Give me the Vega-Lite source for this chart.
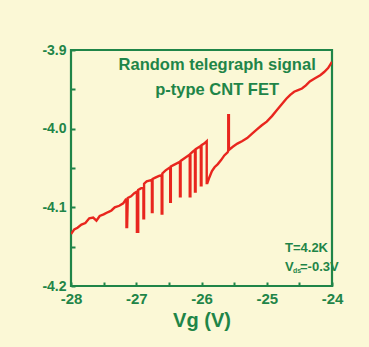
{
  "$schema": "https://vega.github.io/schema/vega-lite/v6.json",
  "width": 261,
  "height": 236,
  "autosize": "none",
  "padding": {"left": 71, "top": 50, "right": 37, "bottom": 61},
  "background": "#fbf8d6",
  "config": {
    "view": {"stroke": "#1f8548", "strokeWidth": 2.2},
    "font": "Liberation Sans",
    "axis": {
      "domain": false,
      "grid": false,
      "tickColor": "#1f8548",
      "tickWidth": 2,
      "labelColor": "#1f8548",
      "labelFont": "Liberation Sans",
      "labelFontWeight": "bold",
      "titleColor": "#1f8548",
      "titleFont": "Liberation Sans",
      "titleFontWeight": "bold",
      "zindex": 1
    }
  },
  "resolve": {"axis": {"x": "independent", "y": "independent"}},
  "datasets": {
    "trace": [
      {"i": 1, "vg": -28.00, "v": -4.134},
      {"i": 2, "vg": -27.95, "v": -4.128},
      {"i": 3, "vg": -27.90, "v": -4.126},
      {"i": 4, "vg": -27.84, "v": -4.122},
      {"i": 5, "vg": -27.78, "v": -4.120},
      {"i": 6, "vg": -27.72, "v": -4.114},
      {"i": 7, "vg": -27.66, "v": -4.113},
      {"i": 8, "vg": -27.61, "v": -4.117},
      {"i": 9, "vg": -27.56, "v": -4.111},
      {"i": 10, "vg": -27.50, "v": -4.109},
      {"i": 11, "vg": -27.43, "v": -4.106},
      {"i": 12, "vg": -27.38, "v": -4.104},
      {"i": 13, "vg": -27.33, "v": -4.100},
      {"i": 14, "vg": -27.26, "v": -4.098},
      {"i": 15, "vg": -27.20, "v": -4.095},
      {"i": 16, "vg": -27.16, "v": -4.090},
      {"i": 17, "vg": -27.15, "v": -4.090},
      {"i": 18, "vg": -27.15, "v": -4.125},
      {"i": 19, "vg": -27.14, "v": -4.125},
      {"i": 20, "vg": -27.13, "v": -4.088},
      {"i": 21, "vg": -27.08, "v": -4.086},
      {"i": 22, "vg": -27.03, "v": -4.082},
      {"i": 23, "vg": -26.99, "v": -4.080},
      {"i": 24, "vg": -26.99, "v": -4.131},
      {"i": 25, "vg": -26.97, "v": -4.131},
      {"i": 26, "vg": -26.97, "v": -4.078},
      {"i": 27, "vg": -26.93, "v": -4.076},
      {"i": 28, "vg": -26.89, "v": -4.075},
      {"i": 29, "vg": -26.89, "v": -4.114},
      {"i": 30, "vg": -26.88, "v": -4.114},
      {"i": 31, "vg": -26.88, "v": -4.070},
      {"i": 32, "vg": -26.84, "v": -4.067},
      {"i": 33, "vg": -26.80, "v": -4.066},
      {"i": 34, "vg": -26.76, "v": -4.065},
      {"i": 35, "vg": -26.76, "v": -4.106},
      {"i": 36, "vg": -26.75, "v": -4.106},
      {"i": 37, "vg": -26.75, "v": -4.064},
      {"i": 38, "vg": -26.70, "v": -4.062},
      {"i": 39, "vg": -26.65, "v": -4.060},
      {"i": 40, "vg": -26.61, "v": -4.059},
      {"i": 41, "vg": -26.61, "v": -4.108},
      {"i": 42, "vg": -26.60, "v": -4.108},
      {"i": 43, "vg": -26.60, "v": -4.057},
      {"i": 44, "vg": -26.55, "v": -4.053},
      {"i": 45, "vg": -26.48, "v": -4.049},
      {"i": 46, "vg": -26.48, "v": -4.093},
      {"i": 47, "vg": -26.47, "v": -4.093},
      {"i": 48, "vg": -26.47, "v": -4.048},
      {"i": 49, "vg": -26.40, "v": -4.045},
      {"i": 50, "vg": -26.33, "v": -4.042},
      {"i": 51, "vg": -26.33, "v": -4.086},
      {"i": 52, "vg": -26.32, "v": -4.086},
      {"i": 53, "vg": -26.32, "v": -4.041},
      {"i": 54, "vg": -26.25, "v": -4.037},
      {"i": 55, "vg": -26.18, "v": -4.033},
      {"i": 56, "vg": -26.18, "v": -4.086},
      {"i": 57, "vg": -26.17, "v": -4.086},
      {"i": 58, "vg": -26.17, "v": -4.032},
      {"i": 59, "vg": -26.13, "v": -4.029},
      {"i": 60, "vg": -26.10, "v": -4.027},
      {"i": 61, "vg": -26.10, "v": -4.080},
      {"i": 62, "vg": -26.09, "v": -4.080},
      {"i": 63, "vg": -26.09, "v": -4.026},
      {"i": 64, "vg": -26.05, "v": -4.024},
      {"i": 65, "vg": -26.01, "v": -4.022},
      {"i": 66, "vg": -26.01, "v": -4.072},
      {"i": 67, "vg": -26.00, "v": -4.072},
      {"i": 68, "vg": -26.00, "v": -4.021},
      {"i": 69, "vg": -25.96, "v": -4.019},
      {"i": 70, "vg": -25.92, "v": -4.016},
      {"i": 71, "vg": -25.92, "v": -4.069},
      {"i": 72, "vg": -25.91, "v": -4.069},
      {"i": 73, "vg": -25.88, "v": -4.062},
      {"i": 74, "vg": -25.84, "v": -4.054},
      {"i": 75, "vg": -25.80, "v": -4.049},
      {"i": 76, "vg": -25.75, "v": -4.045},
      {"i": 77, "vg": -25.70, "v": -4.040},
      {"i": 78, "vg": -25.65, "v": -4.034},
      {"i": 79, "vg": -25.60, "v": -4.030},
      {"i": 80, "vg": -25.59, "v": -4.028},
      {"i": 81, "vg": -25.59, "v": -3.983},
      {"i": 82, "vg": -25.58, "v": -3.983},
      {"i": 83, "vg": -25.58, "v": -4.027},
      {"i": 84, "vg": -25.52, "v": -4.023},
      {"i": 85, "vg": -25.45, "v": -4.019},
      {"i": 86, "vg": -25.38, "v": -4.016},
      {"i": 87, "vg": -25.30, "v": -4.012},
      {"i": 88, "vg": -25.22, "v": -4.006},
      {"i": 89, "vg": -25.15, "v": -4.001},
      {"i": 90, "vg": -25.08, "v": -3.996},
      {"i": 91, "vg": -25.00, "v": -3.991},
      {"i": 92, "vg": -24.92, "v": -3.984},
      {"i": 93, "vg": -24.85, "v": -3.977},
      {"i": 94, "vg": -24.78, "v": -3.970},
      {"i": 95, "vg": -24.70, "v": -3.962},
      {"i": 96, "vg": -24.64, "v": -3.957},
      {"i": 97, "vg": -24.58, "v": -3.953},
      {"i": 98, "vg": -24.52, "v": -3.951},
      {"i": 99, "vg": -24.46, "v": -3.949},
      {"i": 100, "vg": -24.40, "v": -3.945},
      {"i": 101, "vg": -24.34, "v": -3.940},
      {"i": 102, "vg": -24.26, "v": -3.936},
      {"i": 103, "vg": -24.18, "v": -3.932},
      {"i": 104, "vg": -24.12, "v": -3.928},
      {"i": 105, "vg": -24.06, "v": -3.923},
      {"i": 106, "vg": -24.00, "v": -3.915}
    ],
    "titles": [
      {"vg": -25.76, "v": -3.919, "t": "Random telegraph signal"},
      {"vg": -25.76, "v": -3.951, "t": "p-type CNT FET"}
    ],
    "cond": [
      {"vg": -24.72, "v": -4.152, "t": "T=4.2K"}
    ],
    "vds": [
      {"vg": -24.72, "v": -4.176, "t": "V", "s": "ds", "r": "=-0.3V"}
    ]
  },
  "layer": [
    {
      "data": {"name": "trace"},
      "mark": {"type": "line", "color": "#e8261e", "strokeWidth": 2.4, "clip": true},
      "encoding": {
        "x": {
          "field": "vg", "type": "quantitative",
          "scale": {"domain": [-28, -24], "nice": false, "zero": false},
          "axis": {
            "orient": "bottom",
            "values": [-28, -27, -26, -25, -24],
            "labelExpr": "replace(format(datum.value, 'd'), '\u2212', '-')",
            "ticks": false,
            "tickSize": 0,
            "labelFontSize": 15,
            "labelPadding": 5,
            "labelFlush": false,
            "title": "Vg (V)",
            "titleFontSize": 20,
            "titlePadding": 4
          }
        },
        "y": {
          "field": "v", "type": "quantitative",
          "scale": {"domain": [-4.2, -3.9], "nice": false, "zero": false},
          "axis": {
            "orient": "left",
            "values": [-4.2, -4.1, -4.0, -3.9],
            "labelExpr": "replace(format(datum.value, '.1f'), '\u2212', '-')",
            "ticks": false,
            "tickSize": 0,
            "labelFontSize": 14,
            "labelPadding": 5,
            "labelFlush": false,
            "title": null
          }
        },
        "order": {"field": "i", "type": "quantitative"}
      }
    },
    {
      "data": {"name": "titles"},
      "mark": {"type": "text", "color": "#1f8548", "fontWeight": "bold", "fontSize": 16.5, "align": "center", "baseline": "middle"},
      "encoding": {
        "x": {
          "field": "vg", "type": "quantitative",
          "axis": {
            "orient": "top",
            "offset": -236,
            "values": [-28, -27.5, -27, -26.5, -26, -25.5, -25, -24.5, -24],
            "labels": false,
            "ticks": true,
            "tickSize": 4,
            "title": null
          }
        },
        "y": {
          "field": "v", "type": "quantitative",
          "axis": {
            "orient": "right",
            "offset": -261,
            "values": [-4.2, -4.15, -4.1, -4.05, -4.0, -3.95, -3.9],
            "labels": false,
            "ticks": true,
            "tickSize": 4,
            "title": null
          }
        },
        "text": {"field": "t"}
      }
    },
    {
      "data": {"name": "cond"},
      "mark": {"type": "text", "color": "#1f8548", "fontWeight": "bold", "fontSize": 13, "align": "left", "baseline": "middle"},
      "encoding": {
        "x": {"field": "vg", "type": "quantitative", "axis": null},
        "y": {"field": "v", "type": "quantitative", "axis": null},
        "text": {"field": "t"}
      }
    },
    {
      "data": {"name": "vds"},
      "mark": {"type": "text", "color": "#1f8548", "fontWeight": "bold", "fontSize": 13, "align": "left", "baseline": "middle"},
      "encoding": {
        "x": {"field": "vg", "type": "quantitative", "axis": null},
        "y": {"field": "v", "type": "quantitative", "axis": null},
        "text": {"field": "t"}
      }
    },
    {
      "data": {"name": "vds"},
      "mark": {"type": "text", "color": "#1f8548", "fontWeight": "bold", "fontSize": 7, "align": "left", "baseline": "middle", "dx": 8, "dy": 4},
      "encoding": {
        "x": {"field": "vg", "type": "quantitative", "axis": null},
        "y": {"field": "v", "type": "quantitative", "axis": null},
        "text": {"field": "s"}
      }
    },
    {
      "data": {"name": "vds"},
      "mark": {"type": "text", "color": "#1f8548", "fontWeight": "bold", "fontSize": 13, "align": "left", "baseline": "middle", "dx": 15},
      "encoding": {
        "x": {"field": "vg", "type": "quantitative", "axis": null},
        "y": {"field": "v", "type": "quantitative", "axis": null},
        "text": {"field": "r"}
      }
    }
  ]
}
